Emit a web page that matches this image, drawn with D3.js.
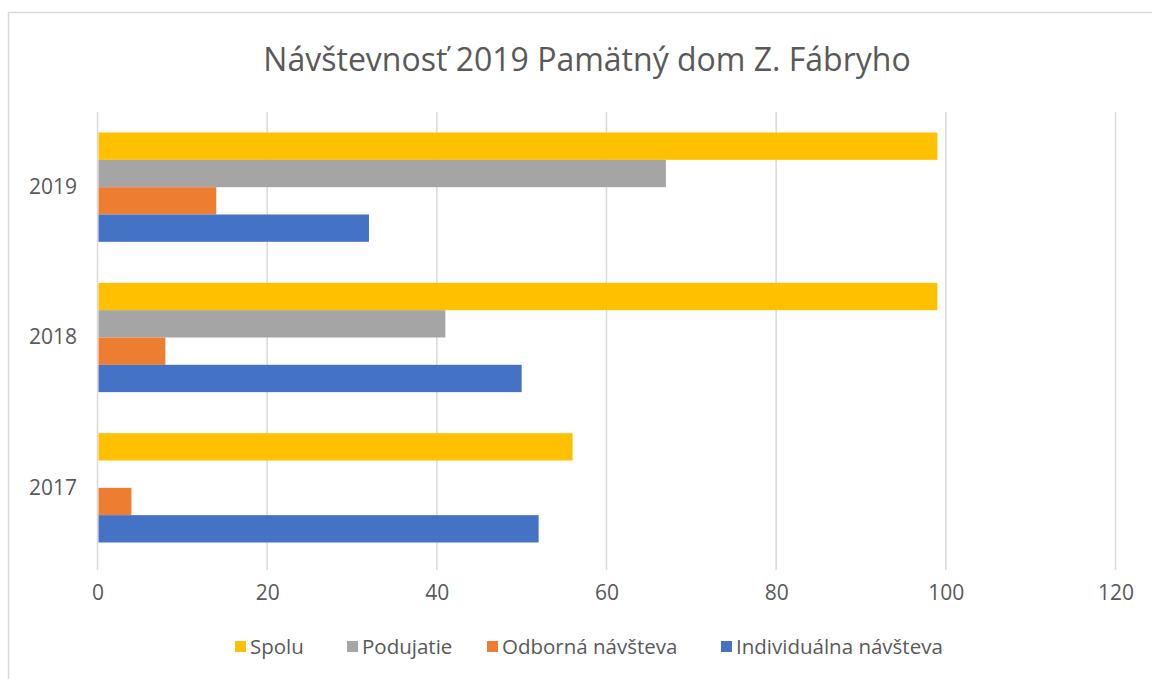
<!DOCTYPE html>
<html lang="sk">
<head>
<meta charset="utf-8">
<title>Návštevnosť 2019</title>
<script src="https://cdn.jsdelivr.net/npm/d3@7"></script>
<style>
  body { margin: 0; background: #ffffff; }
  svg { display: block; font-family: "Open Sans", "Noto Sans", sans-serif; }
</style>
</head>
<body>
<svg id="chart" width="1152" height="679"></svg>
<script>
// data
var years = ["2019", "2018", "2017"];
var seriesNames = ["Spolu", "Podujatie", "Odborná návšteva", "Individuálna návšteva"];
var seriesColors = ["#ffc000", "#a5a5a5", "#ed7d31", "#4472c4"];
var spolu = [99, 99, 56];
var podujatie = [67, 41, 0];
var odborna = [14, 8, 4];
var individualna = [32, 50, 52];
var xTicks = [0, 20, 40, 60, 80, 100, 120];

var values = [spolu, podujatie, odborna, individualna];

var svg = d3.select("#chart");
var textColor = "#595959";

// outer chart frame (only top and left show in the crop)
svg.append("rect")
  .attr("x", 8.5).attr("y", 12.5)
  .attr("width", 1160).attr("height", 700)
  .attr("fill", "none")
  .attr("stroke", "#d9d9d9")
  .attr("stroke-width", 1.5);

svg.append("text")
  .attr("x", 587).attr("y", 71)
  .attr("text-anchor", "middle")
  .attr("font-size", 32)
  .attr("fill", textColor)
  .text("Návštevnosť 2019 Pamätný dom Z. Fábryho");

var plotLeft = 97.5, plotRight = 1115.5, plotTop = 112, plotBottom = 563;

var x = d3.scaleLinear().domain([0, 120]).range([plotLeft, plotRight]);
var y = d3.scaleBand().domain(years).range([plotTop, plotBottom])
  .paddingInner(0.273).paddingOuter(0.1365);
var ySub = d3.scaleBand().domain(d3.range(seriesNames.length)).range([0, y.bandwidth()]);

// gridlines
svg.append("g").selectAll("line").data(xTicks).enter().append("line")
  .attr("x1", function(d) { return x(d); })
  .attr("x2", function(d) { return x(d); })
  .attr("y1", plotTop).attr("y2", plotBottom + 7)
  .attr("stroke", "#d9d9d9")
  .attr("stroke-width", 1.5);

// bars
var groups = svg.append("g").selectAll("g").data(years).enter().append("g")
  .attr("transform", function(d) { return "translate(0," + y(d) + ")"; });

groups.selectAll("rect")
  .data(function(d, i) { return values.map(function(s, k) { return { k: k, v: s[i] }; }); })
  .enter().append("rect")
  .attr("x", x(0) + 1)
  .attr("y", function(d) { return ySub(d.k); })
  .attr("width", function(d) { return d.v > 0 ? x(d.v) - x(0) - 1 : 0; })
  .attr("height", ySub.bandwidth())
  .attr("fill", function(d) { return seriesColors[d.k]; });

// x axis labels
var xAxis = d3.axisBottom(x).tickValues(xTicks).tickSize(0).tickPadding(0);
var gx = svg.append("g").attr("transform", "translate(0," + 600 + ")").call(xAxis);
gx.select(".domain").remove();
gx.selectAll("text")
  .attr("font-size", 21)
  .attr("font-family", "\"Open Sans\", sans-serif")
  .attr("fill", textColor)
  .attr("dy", 0);

// y axis labels
var yAxis = d3.axisLeft(y).tickSize(0).tickPadding(0);
var gy = svg.append("g").attr("transform", "translate(77,0)").call(yAxis);
gy.select(".domain").remove();
gy.selectAll("text")
  .attr("font-size", 21)
  .attr("font-family", "\"Open Sans\", sans-serif")
  .attr("fill", textColor);

// legend
var legendX = [235, 347, 487, 721];
var legend = svg.append("g").selectAll("g").data(seriesNames).enter().append("g")
  .attr("transform", function(d, i) { return "translate(" + legendX[i] + ",641)"; });
legend.append("rect")
  .attr("width", 11).attr("height", 11)
  .attr("fill", function(d, i) { return seriesColors[i]; });
legend.append("text")
  .attr("x", 15).attr("y", 13)
  .attr("font-size", 20.5)
  .attr("fill", textColor)
  .text(function(d) { return d; });
</script>
</body>
</html>
